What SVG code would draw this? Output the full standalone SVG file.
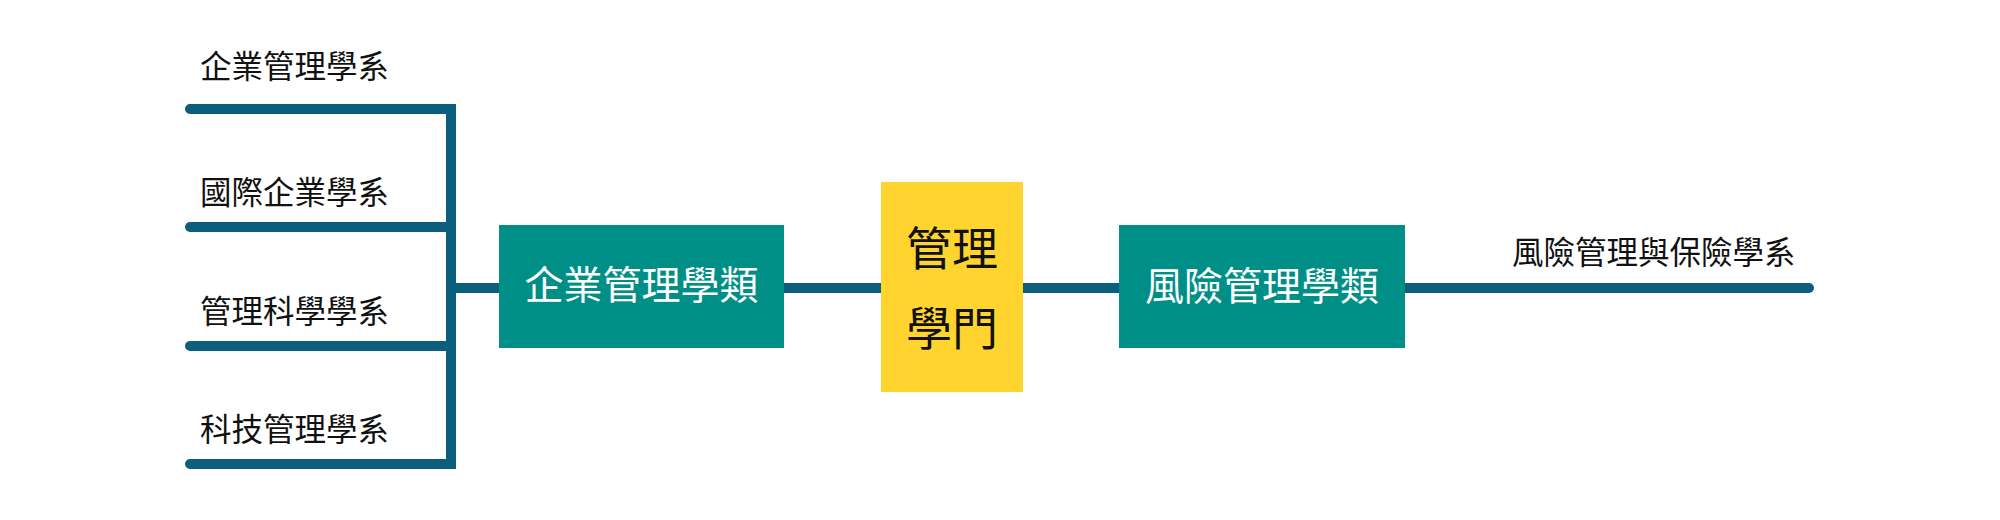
<svg xmlns="http://www.w3.org/2000/svg" width="2000" height="520" viewBox="0 0 2000 520">
  <style>
    .ln { fill: none; stroke: #0B5F7D; stroke-width: 10; stroke-linecap: round; stroke-linejoin: miter; }
    .lb { font-family: "Noto Sans CJK TC", "Noto Sans CJK SC", sans-serif; font-size: 31.5px; fill: #111111; }
    .bx { fill: #008F87; }
    .bt { font-family: "Noto Sans CJK TC", "Noto Sans CJK SC", sans-serif; font-size: 39px; fill: #FFFFFF; text-anchor: middle; }
    .yt { font-family: "Noto Sans CJK TC", "Noto Sans CJK SC", sans-serif; font-size: 46px; fill: #111111; text-anchor: middle; }
  </style>
  <rect width="2000" height="520" fill="#FFFFFF"/>
  <g id="connectors">
    <path class="ln" d="M190 109 H451 V464 H190"/>
    <path class="ln" d="M190 227 H451"/>
    <path class="ln" d="M190 346 H451"/>
    <path class="ln" style="stroke-linecap:butt" d="M451 288 H499"/>
    <path class="ln" style="stroke-linecap:butt" d="M784 288 H881"/>
    <path class="ln" style="stroke-linecap:butt" d="M1023 288 H1119"/>
    <path class="ln" d="M1405 288 H1809"/>
  </g>
  <g id="dept1"><text class="lb" x="200" y="78">企業管理學系</text></g>
  <g id="dept2"><text class="lb" x="200" y="204">國際企業學系</text></g>
  <g id="dept3"><text class="lb" x="200" y="323">管理科學學系</text></g>
  <g id="dept4"><text class="lb" x="200" y="441">科技管理學系</text></g>
  <g id="cat1">
    <rect class="bx" x="499" y="225" width="285" height="123"/>
    <text class="bt" x="641.5" y="299">企業管理學類</text>
  </g>
  <g id="center">
    <rect x="881" y="182" width="142" height="210" fill="#FFD42F"/>
    <text class="yt" x="952" y="265">管理</text>
    <text class="yt" x="952" y="345">學門</text>
  </g>
  <g id="cat2">
    <rect class="bx" x="1119" y="225" width="286" height="123"/>
    <text class="bt" x="1262" y="300">風險管理學類</text>
  </g>
  <g id="dept5"><text class="lb" x="1512" y="264">風險管理與保險學系</text></g>
</svg>
